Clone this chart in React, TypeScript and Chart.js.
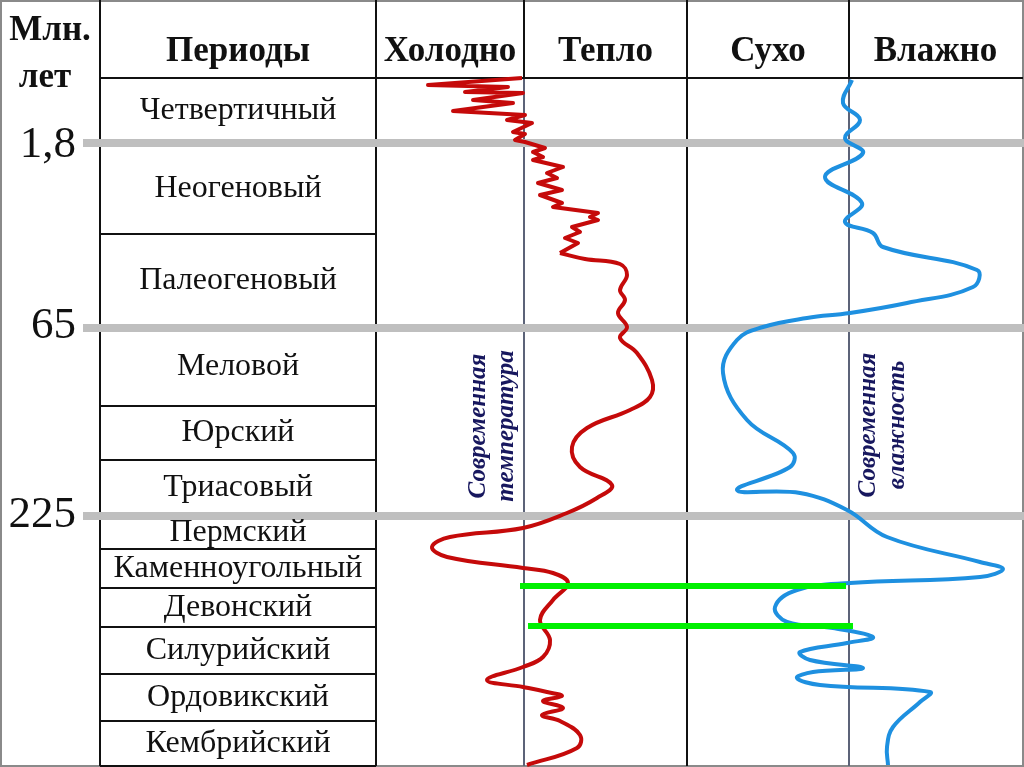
import React, { useEffect, useRef } from 'react';
import { Chart, registerables } from 'chart.js';

Chart.register(...registerables);

// ---------- data ----------
const periodNames = [
  'Четвертичный', 'Неогеновый', 'Палеогеновый', 'Меловой', 'Юрский', 'Триасовый',
  'Пермский', 'Каменноугольный', 'Девонский', 'Силурийский', 'Ордовикский', 'Кембрийский',
];
// depth of period boundaries (diagram units, top of table = 78)
const periodEdges = [78, 143, 234, 328, 406, 460, 516, 549, 588, 627, 674, 721, 766];
const ageLabels = ['1,8', '65', '225'];
const ageLevels = [143, 328, 516];
const headerLabels = ['Периоды', 'Холодно', 'Тепло', 'Сухо', 'Влажно'];
const columnEdges = [100, 376, 524, 687, 849, 1022];

// temperature: offset from the modern-temperature line, by depth
const tempJagDepth = [78, 85, 87, 92, 93, 100, 103, 111, 115, 120, 123, 132, 134, 140, 142, 148, 152, 157, 160, 167, 173, 178, 183, 190, 195, 203, 207, 213, 217, 220, 227, 232, 238, 243, 253];
const tempJagValue = [-2, -96, -16, -59, -1, -51, -11, -71, 1, -17, 8, -11, 1, -9, 1, 21, 9, 19, 9, 39, 23, 33, 14, 38, 16, 38, 29, 74, 66, 74, 48, 56, 41, 54, 36];
const tempSmoothDepth = [253, 259, 264, 275, 290, 300, 313, 327, 338, 353, 380, 397, 410, 428, 447, 467, 485, 498, 513, 528, 537, 547, 557, 568, 573, 583, 600, 620, 640, 657, 667, 680, 687, 692, 696, 701, 708, 715, 721, 735, 748, 765];
const tempSmoothValue = [36, 61, 96, 103, 96, 101, 94, 103, 96, 113, 128, 126, 106, 63, 48, 56, 88, 73, 43, -1, -74, -92, -77, -1, 29, 44, 29, 16, 26, 19, -1, -37, -1, 23, 38, 19, 39, 18, 36, 56, 53, 3];

// humidity: offset from the modern-humidity line, by depth
const humDepth = [80, 103, 120, 138, 153, 177, 203, 222, 233, 247, 270, 287, 303, 313, 318, 327, 340, 373, 420, 453, 467, 490, 493, 510, 537, 562, 569, 577, 583, 590, 607, 622, 628, 637, 643, 652, 660, 668, 672, 678, 685, 692, 702, 727, 747, 765];
const humValue = [3, -6, 11, -4, 14, -24, 13, -4, 24, 34, 128, 124, 58, 1, -42, -86, -112, -126, -102, -56, -59, -112, -49, -2, 38, 131, 154, 131, 1, -52, -74, -62, -16, 24, -2, -49, -39, 14, -36, -52, -29, 81, 71, 44, 38, 39];

// green correlation lines (depth, start x, end x)
const greenDepth = [586, 626];
const greenStart = [520, 528];
const greenEnd = [846, 853];

const SERIF = "'Liberation Serif', 'Times New Roman', serif";

const tablePlugin = {
  id: 'tablePlugin',
  beforeDatasetsDraw(chart: any) {
    const ctx = chart.ctx as CanvasRenderingContext2D;
    const X = chart.scales.x;
    const Y = chart.scales.y;
    const px = (v: number) => X.getPixelForValue(v);
    const py = (v: number) => Y.getPixelForValue(v);
    ctx.save();
    ctx.fillStyle = '#ffffff';
    ctx.fillRect(0, 0, chart.width, chart.height);

    // outer frame
    ctx.strokeStyle = '#8a8a8a';
    ctx.lineWidth = 2;
    ctx.strokeRect(1, 1, chart.width - 2, chart.height - 2);

    // vertical lines
    const top = py(0);
    const head = py(periodEdges[0]);
    const bottom = py(766);
    columnEdges.forEach((c, i) => {
      if (i === columnEdges.length - 1) return;
      const slate = i === 2 || i === 4;
      ctx.lineWidth = 2;
      ctx.strokeStyle = '#111111';
      ctx.beginPath();
      ctx.moveTo(px(c), top);
      ctx.lineTo(px(c), slate ? head : bottom);
      ctx.stroke();
      if (slate) {
        ctx.strokeStyle = '#5c6378';
        ctx.beginPath();
        ctx.moveTo(px(c), head);
        ctx.lineTo(px(c), bottom);
        ctx.stroke();
      }
    });
    // header line
    ctx.strokeStyle = '#111111';
    ctx.lineWidth = 2;
    ctx.beginPath();
    ctx.moveTo(px(columnEdges[0]), head);
    ctx.lineTo(chart.width - 1, head);
    ctx.stroke();
    // period row lines
    periodEdges.forEach((e, i) => {
      if (i === 0) return;
      ctx.beginPath();
      ctx.moveTo(px(columnEdges[0]), py(e));
      ctx.lineTo(px(columnEdges[1]), py(e));
      ctx.stroke();
    });

    // grey age bands
    ctx.strokeStyle = '#bfbfbf';
    ctx.lineWidth = 8;
    ageLevels.forEach((a) => {
      ctx.beginPath();
      ctx.moveTo(px(83), py(a));
      ctx.lineTo(chart.width, py(a));
      ctx.stroke();
    });

    // header texts
    ctx.fillStyle = '#111111';
    ctx.textAlign = 'center';
    ctx.textBaseline = 'alphabetic';
    ctx.font = `bold 35px ${SERIF}`;
    headerLabels.forEach((h, i) => {
      const cx = (px(columnEdges[i]) + px(columnEdges[i + 1])) / 2;
      ctx.fillText(h, cx, py(61));
    });
    ctx.fillText('Млн.', px(50), py(40));
    ctx.fillText('лет', px(45), py(87));

    // age labels
    ctx.font = `45px ${SERIF}`;
    ctx.textAlign = 'right';
    const ageBase = [157, 338, 527];
    ageLabels.forEach((l, i) => {
      ctx.fillText(l, px(76), py(ageBase[i]));
    });

    // period names
    ctx.font = `32px ${SERIF}`;
    ctx.textAlign = 'center';
    ctx.textBaseline = 'middle';
    periodNames.forEach((n, i) => {
      const cy = (py(periodEdges[i]) + py(periodEdges[i + 1])) / 2;
      ctx.fillText(n, (px(columnEdges[0]) + px(columnEdges[1])) / 2, cy);
    });

    // rotated labels
    ctx.fillStyle = '#17175e';
    ctx.font = `italic bold 25px ${SERIF}`;
    const rot = (t: string, x: number, y: number) => {
      ctx.save();
      ctx.translate(px(x), py(y));
      ctx.rotate(-Math.PI / 2);
      ctx.textAlign = 'center';
      ctx.textBaseline = 'middle';
      ctx.fillText(t, 0, 0);
      ctx.restore();
    };
    rot('Современная', 479, 426);
    rot('температура', 507, 426);
    rot('Современная', 869, 425);
    rot('влажность', 898, 425);
    ctx.restore();
  },
};

const toPts = (xs: number[], ys: number[]) => xs.map((v, i) => ({ x: v, y: ys[i] }));

export default function App() {
  const ref = useRef<HTMLCanvasElement>(null);
  useEffect(() => {
    document.body.style.margin = '0';
    document.body.style.overflow = 'hidden';
    const canvas = ref.current!;
    const chart = new Chart(canvas, {
      type: 'scatter',
      data: {
        datasets: [
          ...greenDepth.map((d, i) => ({
            label: 'green' + i,
            data: [{ x: greenStart[i], y: d }, { x: greenEnd[i], y: d }],
            xAxisID: 'x',
            showLine: true,
            borderColor: '#00f000',
            borderWidth: 6,
            pointRadius: 0,
            tension: 0,
            borderCapStyle: 'butt' as const,
          })),
          {
            label: 'temp-recent',
            data: toPts(tempJagValue, tempJagDepth),
            xAxisID: 'xT',
            showLine: true,
            borderColor: '#c50a0a',
            borderWidth: 4,
            pointRadius: 0,
            tension: 0,
            borderJoinStyle: 'round' as const,
          },
          {
            label: 'temp',
            data: toPts(tempSmoothValue, tempSmoothDepth),
            xAxisID: 'xT',
            showLine: true,
            borderColor: '#c50a0a',
            borderWidth: 4,
            pointRadius: 0,
            tension: 0.4,
            borderJoinStyle: 'round' as const,
          },
          {
            label: 'humidity',
            data: toPts(humValue, humDepth),
            xAxisID: 'xH',
            showLine: true,
            borderColor: '#1e90e0',
            borderWidth: 4,
            pointRadius: 0,
            tension: 0.4,
            borderJoinStyle: 'round' as const,
          },
        ],
      },
      options: {
        responsive: false,
        animation: false,
        maintainAspectRatio: false,
        layout: { padding: 0 },
        plugins: { legend: { display: false }, tooltip: { enabled: false } },
        scales: {
          x: { type: 'linear', min: 0, max: 1024, display: false },
          xT: { type: 'linear', axis: 'x', position: 'bottom', min: -524, max: 500, display: false },
          xH: { type: 'linear', axis: 'x', position: 'bottom', min: -849, max: 175, display: false },
          y: { type: 'linear', min: 0, max: 767, reverse: true, display: false },
        },
      } as any,
      plugins: [tablePlugin],
    });
    return () => chart.destroy();
  }, []);
  return (
    <div style={{ width: 1024, height: 767, overflow: 'hidden' }}>
      <canvas ref={ref} width={1024} height={767} style={{ display: 'block', width: 1024, height: 767 }} />
    </div>
  );
}
